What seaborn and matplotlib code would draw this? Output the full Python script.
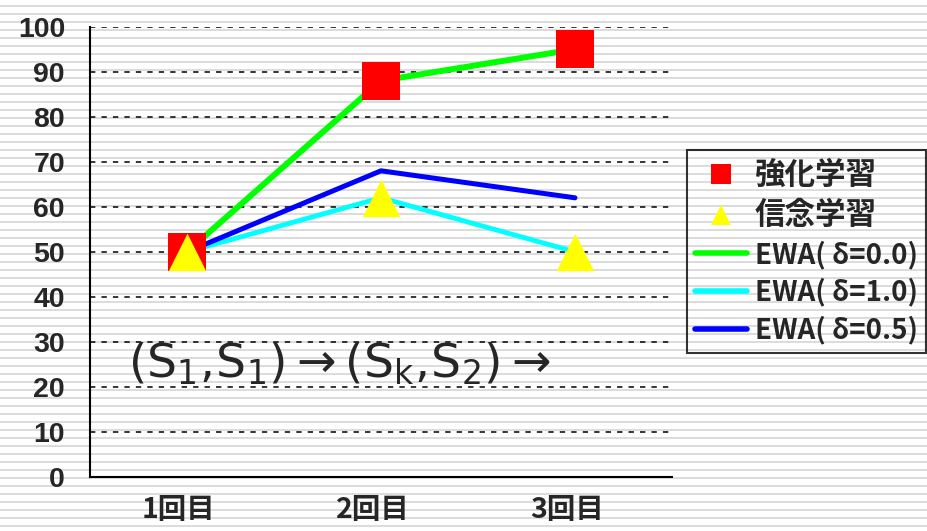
import numpy as np
import pandas as pd
import matplotlib
matplotlib.use("Agg")
import matplotlib.pyplot as plt
import seaborn as sns
from matplotlib.lines import Line2D
from matplotlib.transforms import ScaledTranslation

# ---- data ----
rounds = ["1回目", "2回目", "3回目"]
reinforcement = [50, 88, 95]      # 強化学習
belief = [50, 62, 50]             # 信念学習
ewa_delta_00 = [50, 88, 95]       # EWA(δ=0.0)
ewa_delta_10 = [50, 62, 50]       # EWA(δ=1.0)
ewa_delta_05 = [50, 68, 62]       # EWA(δ=0.5)
y_ticks = [0, 10, 20, 30, 40, 50, 60, 70, 80, 90, 100]

sns.set_style("white")
plt.rcParams["font.family"] = ["Noto Sans CJK JP", "DejaVu Sans"]
plt.rcParams["mathtext.fontset"] = "dejavusans"

W, H = 927, 531
fig = plt.figure(figsize=(W / 100, H / 100), dpi=100)

# striped slide background
bg = fig.add_axes([0, 0, 1, 1], zorder=0)
bg.set_xlim(0, 1)
bg.set_ylim(H, 0)
bg.axis("off")
bg.hlines(np.arange(6, H, 8), 0, 1, color="#dcdcdc", lw=1.44)

ax = fig.add_axes([90 / W, 1 - 477 / H, (672 - 90) / W, (477 - 26.7) / H], zorder=1)
ax.patch.set_alpha(0)

x = np.arange(len(rounds))
df = pd.DataFrame({"round": x,
                   "rl": reinforcement, "bl": belief,
                   "e00": ewa_delta_00, "e10": ewa_delta_10, "e05": ewa_delta_05})

sns.lineplot(data=df, x="round", y="e10", ax=ax, color="#00ffff", lw=3.5,
             solid_capstyle="round", zorder=3)
sns.lineplot(data=df, x="round", y="e05", ax=ax, color="#0000ff", lw=3.6,
             solid_capstyle="round", zorder=3)
sns.lineplot(data=df, x="round", y="e00", ax=ax, color="#00ff00", lw=4.3,
             solid_capstyle="round", zorder=3)
sns.scatterplot(data=df, x="round", y="rl", ax=ax, marker="s", s=27 ** 2,
                color="#ff0000", linewidth=0, zorder=4)
sns.scatterplot(data=df, x="round", y="bl", ax=ax, marker="^", s=27 ** 2,
                color="#ffff00", linewidth=0, zorder=5)

ax.set_xlim(-0.5, 2.5)
ax.set_ylim(0, 100)
ax.set_xlabel("")
ax.set_ylabel("")

# axes styling
for side in ["top", "right"]:
    ax.spines[side].set_visible(False)
for side in ["left", "bottom"]:
    ax.spines[side].set_linewidth(1.5)
    ax.spines[side].set_color("black")

ax.set_yticks(y_ticks)
ax.set_yticklabels([str(v) for v in y_ticks], fontsize=20.5, fontweight="bold",
                   family="Liberation Sans")
ax.tick_params(axis="y", direction="in", length=4, width=1.5, pad=18)
for v in y_ticks[1:]:
    ax.axhline(v, color="black", lw=1.1, linestyle=(0, (3.5, 4)), zorder=2)

ax.set_xticks(x)
ax.set_xticklabels(rounds, fontsize=20.5, fontweight="bold")
ax.tick_params(axis="x", which="major", length=0, pad=14)
ax.set_xticks([0.5, 1.5, 2.5], minor=True)
ax.tick_params(axis="x", which="minor", direction="in", length=7, width=1.5)
shift = ScaledTranslation(-8 / 100, 0, fig.dpi_scale_trans)
for lbl in ax.get_xticklabels():
    lbl.set_transform(lbl.get_transform() + shift)

ax.text(-0.305, 25,
        r"$\mathregular{(S_1,\!S_1)\rightarrow(S_k,\!S_2)\rightarrow}$",
        fontsize=34, family="DejaVu Sans", va="center", ha="left", zorder=6)

handles = [
    Line2D([], [], marker="s", color="none", markerfacecolor="#ff0000",
           markeredgewidth=0, markersize=14),
    Line2D([], [], marker="^", color="none", markerfacecolor="#ffff00",
           markeredgewidth=0, markersize=15),
    Line2D([], [], color="#00ff00", lw=4),
    Line2D([], [], color="#00ffff", lw=4),
    Line2D([], [], color="#0000ff", lw=4),
]
labels = ["強化学習", "信念学習", "EWA( δ=0.0)", "EWA( δ=1.0)", "EWA( δ=0.5)"]
leg = fig.legend(handles, labels, loc="upper left",
                 bbox_to_anchor=(687 / W, 1 - 150 / H), borderaxespad=0,
                 frameon=True, fancybox=False,
                 prop={"size": 20, "weight": "bold"},
                 handlelength=1.85, handletextpad=0.3, labelspacing=0.32,
                 borderpad=0.3)
leg.get_frame().set_facecolor("none")
leg.get_frame().set_edgecolor("black")
leg.get_frame().set_linewidth(1.5)
for t in leg.get_texts()[:2]:
    t.set_fontsize(22)

fig.savefig("out.png", dpi=100)
